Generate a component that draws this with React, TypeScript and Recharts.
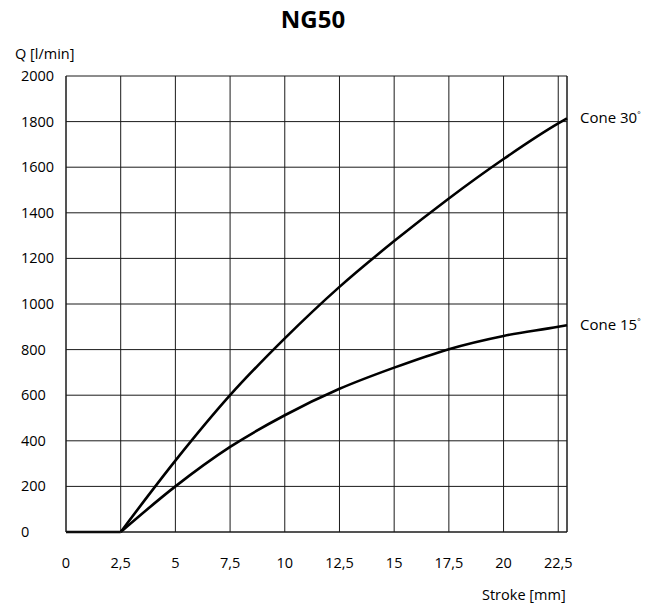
import React from 'react';
import { LineChart, Line, XAxis, YAxis, CartesianGrid, ReferenceLine, LabelList, Label } from 'recharts';

// stroke positions [mm] and flow [l/min] per cone angle
const strokeMm = [0, 2.5, 5, 7.5, 10, 12.5, 15, 17.5, 20, 22.5, 22.9];
const closedFlow = [0, 0, null, null, null, null, null, null, null, null, null];
const cone30Flow = [null, 0, 313, 600, 849, 1075, 1276, 1463, 1636, 1792, 1814];
const cone15Flow = [null, 0, 200, 373, 512, 628, 721, 802, 860, 900, 907];

const xTicks = [0, 2.5, 5, 7.5, 10, 12.5, 15, 17.5, 20, 22.5];
const yTicks = [0, 200, 400, 600, 800, 1000, 1200, 1400, 1600, 1800, 2000];

const data = strokeMm.map((s, i) => ({
  stroke: s,
  closed: closedFlow[i],
  cone30: cone30Flow[i],
  cone15: cone15Flow[i],
}));

const FONT = '"Open Sans", "Noto Sans", sans-serif';
const INK = '#000';
const GRID = '#1a1a1a';

const endLabel = (angle: string) => (props: any) => {
  const { x, y, index } = props;
  if (index !== strokeMm.length - 1) return null;
  return (
    <text x={x + 13} y={y} dy={5} fontSize={15} fill={INK} fontFamily={FONT}>
      Cone {angle}
      <tspan fontSize={8} dy={-6}>°</tspan>
    </text>
  );
};

const YTick = (props: any) => {
  const { x, y, payload } = props;
  return (
    <text x={x - 37} y={y} dy={5} textAnchor="start" fontSize={14.5} fill={INK} fontFamily={FONT}>
      {payload.value}
    </text>
  );
};

export default function App() {
  return (
    <div style={{ position: 'absolute', left: 0, top: 0, background: '#fff' }}>
      <LineChart
        width={659}
        height={608}
        data={data}
        margin={{ top: 76, right: 92, left: 0, bottom: 0 }}
        style={{ fontFamily: FONT }}
      >
        <CartesianGrid stroke={GRID} strokeWidth={1} />
        <XAxis
          dataKey="stroke"
          type="number"
          domain={[0, 22.9]}
          ticks={xTicks}
          height={76}
          tickLine={false}
          tickMargin={20}
          axisLine={{ stroke: GRID }}
          tick={{ fill: INK, fontSize: 14.5 }}
          tickFormatter={(v: number) => String(v).replace('.', ',')}
        >
          <Label
            content={() => (
              <text x={482} y={600} fontSize={14.5} fill={INK} fontFamily={FONT}>
                Stroke [mm]
              </text>
            )}
          />
        </XAxis>
        <YAxis
          type="number"
          domain={[0, 2000]}
          ticks={yTicks}
          width={66}
          tickLine={false}
          axisLine={{ stroke: GRID }}
          tick={<YTick />}
        >
          <Label
            content={() => (
              <g>
                <text x={313} y={28} textAnchor="middle" fontSize={24} fontWeight="bold" fill={INK} fontFamily={FONT}>
                  NG50
                </text>
                <text x={15} y={59} fontSize={14.5} fill={INK} fontFamily={FONT}>
                  Q [l/min]
                </text>
              </g>
            )}
          />
        </YAxis>
        <ReferenceLine x={22.9} stroke={GRID} strokeWidth={1} />
        <Line
          dataKey="closed"
          type="linear"
          stroke={INK}
          strokeWidth={2.6}
          dot={false}
          isAnimationActive={false}
          connectNulls={false}
        />
        <Line
          dataKey="cone30"
          type="monotone"
          stroke={INK}
          strokeWidth={2.6}
          dot={false}
          isAnimationActive={false}
        >
          <LabelList dataKey="cone30" content={endLabel('30')} />
        </Line>
        <Line
          dataKey="cone15"
          type="monotone"
          stroke={INK}
          strokeWidth={2.6}
          dot={false}
          isAnimationActive={false}
        >
          <LabelList dataKey="cone15" content={endLabel('15')} />
        </Line>
      </LineChart>
    </div>
  );
}
